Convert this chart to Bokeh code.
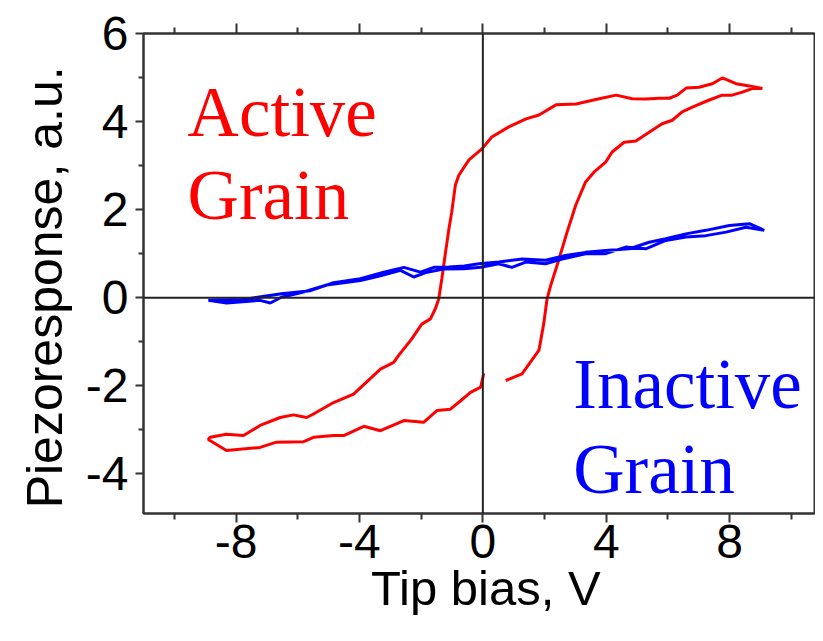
from bokeh.plotting import figure
from bokeh.models import FixedTicker, LinearAxis, Span, Label, Range1d
from bokeh.embed import file_html
from bokeh.resources import INLINE

# ---- data ----
red_v = [0.74, 1.27, 1.82, 1.98, 2.08, 2.20, 2.47, 2.73, 3.01, 3.33, 3.60, 3.98, 4.19, 4.58,
         4.96, 5.39, 5.81, 6.14, 6.46, 6.79, 7.34, 7.76, 8.08, 8.41, 8.73, 9.06,
         8.64, 8.21, 7.76, 7.44, 7.01, 6.59, 6.30, 6.04, 5.71, 5.29, 4.84, 4.32, 3.77, 3.02,
         2.37, 1.82, 1.40, 0.84, 0.29, -0.03, -0.45, -0.78, -0.89, -1.01, -1.10, -1.21, -1.33,
         -1.43, -1.54, -1.70, -1.98, -2.31, -2.73, -2.89, -3.32, -4.19, -4.84, -5.49, -5.71,
         -6.14, -6.57, -7.22, -7.76, -8.31, -8.84, -8.90,
         -8.31, -7.22, -6.69, -5.81, -5.49, -4.84, -4.51, -3.86, -3.32, -2.56, -1.92, -1.48,
         -1.05, -0.72, -0.40, -0.07, 0.03]
red_pr = [-1.88, -1.73, -1.19, -0.56, -0.03, 0.28, 0.88, 1.49, 2.10, 2.63, 2.85, 3.08, 3.31, 3.53,
          3.56, 3.76, 3.95, 4.03, 4.22, 4.33, 4.49, 4.60, 4.60, 4.67, 4.75, 4.75,
          4.81, 4.86, 4.99, 4.86, 4.78, 4.76, 4.60, 4.53, 4.53, 4.51, 4.52, 4.60, 4.52, 4.40,
          4.38, 4.15, 4.06, 3.88, 3.65, 3.38, 3.13, 2.78, 2.56, 1.94, 1.56, 1.03, 0.43,
          -0.03, -0.25, -0.48, -0.60, -0.94, -1.31, -1.47, -1.62, -2.19, -2.38, -2.64, -2.72,
          -2.66, -2.72, -2.90, -3.13, -3.10, -3.17, -3.22,
          -3.47, -3.40, -3.28, -3.27, -3.17, -3.13, -3.13, -2.92, -3.02, -2.79, -2.83, -2.56,
          -2.53, -2.34, -2.15, -2.03, -1.72]

blue_v = [-8.90, -8.31, -7.22, -6.89, -6.53, -5.81, -5.06, -3.97, -3.32, -2.67, -2.24, -1.81,
          -1.27, -0.60, -0.07, 0.52, 0.94, 1.39, 2.03, 2.57, 3.33, 3.98, 4.63, 5.28, 5.93,
          6.58, 7.23, 7.88, 8.53, 9.12,
          8.64, 7.99, 7.23, 6.58, 5.93, 5.39, 4.74, 3.98, 3.33, 2.68, 2.03, 1.28, 0.52, -0.13,
          -0.60, -1.10, -1.59, -2.02, -2.56, -3.21, -3.97, -4.84, -5.59, -6.53, -7.76, -8.90]
blue_pr = [-0.06, -0.12, -0.06, -0.12, 0.01, 0.13, 0.29, 0.39, 0.50, 0.62, 0.47, 0.58,
           0.65, 0.66, 0.69, 0.77, 0.69, 0.81, 0.77, 0.88, 1.00, 1.00, 1.15, 1.11, 1.30,
           1.38, 1.41, 1.49, 1.60, 1.53,
           1.68, 1.64, 1.53, 1.45, 1.34, 1.26, 1.11, 1.07, 1.03, 0.96, 0.85, 0.88, 0.81, 0.77,
           0.72, 0.70, 0.69, 0.58, 0.69, 0.58, 0.43, 0.34, 0.16, 0.09, -0.04, -0.06]

x_major = [-8, -4, 0, 4, 8]
x_minor = [-10, -6, -2, 2, 6, 10]
y_major = [-4, -2, 0, 2, 4, 6]
y_minor = [-5, -3, -1, 1, 3, 5]

SANS = "Liberation Sans"
SERIF = "Liberation Serif"
FRAME = "#333333"
NB = "\u00a0"

p = figure(width=815, height=633, x_range=Range1d(-11, 10.75), y_range=Range1d(-4.9, 6),
           output_backend="svg", toolbar_location=None,
           min_border_left=143, min_border_right=1, min_border_top=33, min_border_bottom=120)
p.xgrid.visible = False
p.ygrid.visible = False
p.outline_line_color = FRAME
p.outline_line_width = 2
p.background_fill_color = "white"
p.border_fill_color = "white"


def style_axis(ax, tick_out, minor_out):
    ax.major_tick_out = tick_out
    ax.major_tick_in = 0
    ax.minor_tick_out = minor_out
    ax.minor_tick_in = 0
    ax.axis_line_color = FRAME
    ax.axis_line_width = 2
    ax.major_tick_line_color = FRAME
    ax.major_tick_line_width = 2
    ax.minor_tick_line_color = FRAME
    ax.minor_tick_line_width = 2


xa = p.xaxis[0]
xa.ticker = FixedTicker(ticks=x_major, minor_ticks=x_minor)
xa.major_label_overrides = {t: str(t) for t in x_major}
xa.axis_label = NB + "Tip bias, V"
xa.axis_label_text_font = SANS
xa.axis_label_text_font_size = "49px"
xa.axis_label_text_font_style = "normal"
xa.axis_label_text_color = "black"
xa.axis_label_standoff = 0
xa.major_label_text_font = SANS
xa.major_label_text_font_size = "48px"
xa.major_label_text_color = "black"
xa.major_label_standoff = 2
style_axis(xa, 9, 6)

ya = p.yaxis[0]
ya.ticker = FixedTicker(ticks=y_major, minor_ticks=y_minor)
ya.major_label_overrides = {t: str(t) for t in y_major}
ya.axis_label = "Piezoresponse, a.u." + NB + NB
ya.axis_label_text_font = SANS
ya.axis_label_text_font_size = "50px"
ya.axis_label_text_font_style = "normal"
ya.axis_label_text_color = "black"
ya.axis_label_standoff = 10
ya.major_label_text_font = SANS
ya.major_label_text_font_size = "48px"
ya.major_label_text_color = "black"
ya.major_label_standoff = 7
style_axis(ya, 8, 5)

top = LinearAxis(ticker=FixedTicker(ticks=x_major, minor_ticks=x_minor),
                 major_label_overrides={t: "" for t in x_major},
                 major_label_text_font_size="1px", major_label_standoff=0)
style_axis(top, 10, 6)
p.add_layout(top, "above")

p.add_layout(Span(location=0, dimension="width", line_color="#222222", line_width=2))
p.add_layout(Span(location=0, dimension="height", line_color="#222222", line_width=2))

p.line(red_v, red_pr, line_color="#ff0000", line_width=3)
p.line(blue_v, blue_pr, line_color="#0000ff", line_width=3)

for txt, x, y, col in [("Active", -9.57, 3.62, "#ff0000"), ("Grain", -9.57, 1.75, "#ff0000"),
                       ("Inactive", 2.93, -2.56, "#0000ff"), ("Grain", 2.93, -4.49, "#0000ff")]:
    p.add_layout(Label(x=x, y=y, y_offset=26, text=txt, text_font=SERIF, text_font_size="71px",
                       text_color=col, text_baseline="alphabetic", text_align="left"))

open("out.html", "w").write(file_html(p, INLINE))
